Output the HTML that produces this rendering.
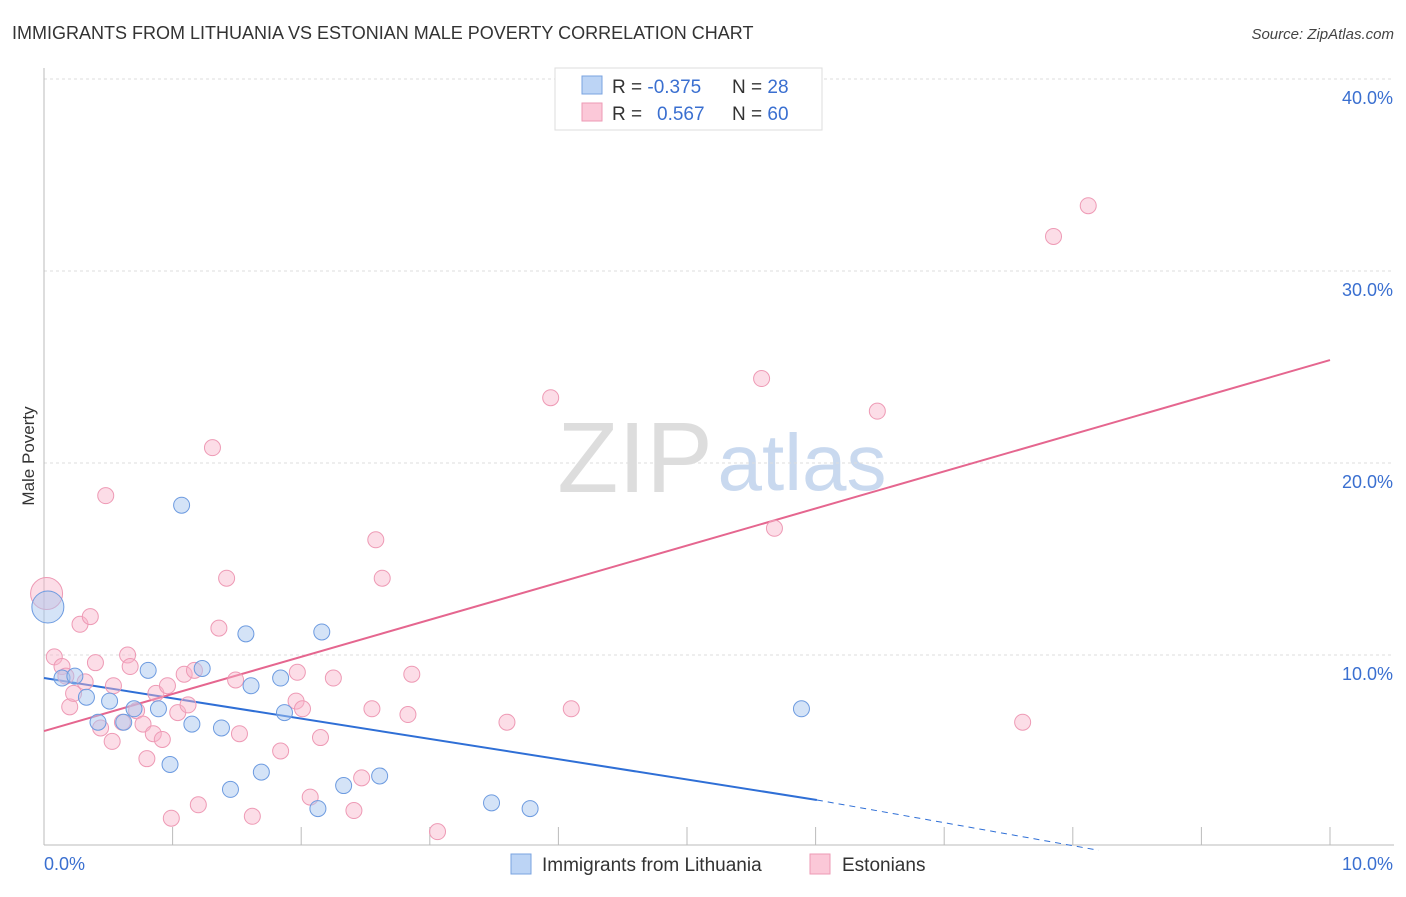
<!DOCTYPE html>
<html><head><meta charset="utf-8"><style>
body{margin:0;background:#fff;font-family:"Liberation Sans",sans-serif;}
svg text{font-family:"Liberation Sans",sans-serif;}
</style></head><body>
<svg width="1406" height="892" viewBox="0 0 1406 892">
<text x="12" y="39" font-size="18" fill="#333">IMMIGRANTS FROM LITHUANIA VS ESTONIAN MALE POVERTY CORRELATION CHART</text>
<text x="1394" y="39" font-size="15" fill="#444" font-style="italic" text-anchor="end">Source: ZipAtlas.com</text>
<text x="34" y="456" font-size="17" fill="#333" text-anchor="middle" transform="rotate(-90 34 456)">Male Poverty</text>
<g>
<text x="635" y="492" font-size="100" fill="#ddd" font-family="Liberation Serif" text-anchor="middle">ZIP</text>
<text x="802" y="490" font-size="80" fill="#c9d9ef" text-anchor="middle">atlas</text>
</g>
<g id="grid"></g>
<g id="axes"></g>
<g id="lines"></g>
<g id="pts"></g>
<g>
<rect x="555" y="68" width="267" height="62" fill="#fff" stroke="#ddd"/>
<rect x="582" y="76" width="20" height="18" fill="#bcd4f5" stroke="#7aa3e0"/>
<rect x="582" y="103" width="20" height="18" fill="#fbc8d8" stroke="#ee9ab5"/>
<text x="612" y="93" font-size="19" fill="#333">R = <tspan fill="#3a6fd0">-0.375</tspan><tspan x="732">N = </tspan><tspan fill="#3a6fd0">28</tspan></text>
<text x="612" y="120" font-size="19" fill="#333">R = <tspan fill="#3a6fd0" x="657">0.567</tspan><tspan x="732">N = </tspan><tspan fill="#3a6fd0">60</tspan></text>
</g>
<g>
<rect x="511" y="854" width="20" height="20" fill="#bcd4f5" stroke="#7aa3e0"/>
<text x="542" y="871" font-size="19" fill="#333">Immigrants from Lithuania</text>
<rect x="810" y="854" width="20" height="20" fill="#fbc8d8" stroke="#ee9ab5"/>
<text x="842" y="871" font-size="19" fill="#333">Estonians</text>
</g>
</svg>
<script>
const yTicks=[10,20,30,40];
const yTickLabels=["10.0%","20.0%","30.0%","40.0%"];
const xTickLabels=["0.0%","10.0%"];
const blueX=[0.03,0.14,0.24,0.33,0.42,0.51,0.62,0.7,0.81,0.89,0.98,1.07,1.15,1.23,1.38,1.45,1.57,1.61,1.69,1.84,1.87,2.13,2.16,2.33,2.61,3.48,3.78,5.89];
const blueY=[12.5,8.8,8.9,7.8,6.5,7.6,6.5,7.2,9.2,7.2,4.3,17.8,6.4,9.3,6.2,3.0,11.1,8.4,3.9,8.8,7.0,2.0,11.2,3.2,3.7,2.3,2.0,7.2];
const pinkX=[0.02,0.08,0.14,0.17,0.2,0.23,0.28,0.32,0.36,0.4,0.44,0.48,0.53,0.54,0.61,0.65,0.67,0.72,0.77,0.8,0.85,0.87,0.92,0.96,0.99,1.04,1.09,1.12,1.17,1.2,1.31,1.36,1.42,1.49,1.52,1.62,1.84,1.97,1.96,2.01,2.07,2.15,2.25,2.41,2.47,2.55,2.58,2.63,2.83,2.86,3.06,3.6,3.94,4.1,5.58,5.68,6.48,7.61,7.85,8.12];
const pinkY=[13.2,9.9,9.4,8.9,7.3,8.0,11.6,8.6,12.0,9.6,6.2,18.3,5.5,8.4,6.5,10.0,9.4,7.1,6.4,4.6,5.9,8.0,5.6,8.4,1.5,7.0,9.0,7.4,9.2,2.2,20.8,11.4,14.0,8.7,5.9,1.6,5.0,9.1,7.6,7.2,2.6,5.7,8.8,1.9,3.6,7.2,16.0,14.0,6.9,9.0,0.8,6.5,23.4,7.2,24.4,16.6,22.7,6.5,31.8,33.4];
const blueLine=[8.8,2.45,-0.17];
const pinkLine=[6.04,25.36];
const X=v=>44+v/10*1286, Y=v=>847-v*19.2;
const NS="http://www.w3.org/2000/svg";
function mk(t,a,p){const e=document.createElementNS(NS,t);for(const k in a)e.setAttribute(k,a[k]);p.appendChild(e);return e;}
const grid=document.getElementById('grid'),axes=document.getElementById('axes'),lines=document.getElementById('lines'),pts=document.getElementById('pts');
yTicks.forEach((v,i)=>{
 const l=mk('line',{x1:44,x2:1394,y1:Y(v),y2:Y(v),stroke:'#ddd','stroke-dasharray':'3,3'},grid);
 
 
 const t=mk('text',{x:1393,y:Y(v)+25,'font-size':18,fill:'#3a6fd0','text-anchor':'end'},grid);t.textContent=yTickLabels[i];
 
 
});
mk('line',{x1:44,x2:44,y1:68,y2:845,stroke:'#bbb'},axes);
mk('line',{x1:44,x2:1394,y1:845,y2:845,stroke:'#bbb'},axes);
for(let i=0;i<=10;i++){mk('line',{x1:X(i),x2:X(i),y1:827,y2:845,stroke:'#bbb'},axes);}
[0,10].forEach((v,i)=>{const t=mk('text',{x:i?1393:44,y:870,'font-size':18,fill:'#3a6fd0','text-anchor':i?'end':'start'},axes);t.textContent=xTickLabels[i];
 
 });
const bl=mk('line',{x1:X(0),y1:Y(blueLine[0]),x2:X(6.01),y2:Y(blueLine[1]),stroke:'#2f6fd6','stroke-width':2},lines);


const bd=mk('line',{x1:X(6.01),y1:Y(blueLine[1]),x2:X(8.2),y2:Y(blueLine[2]),stroke:'#2f6fd6','stroke-width':1,'stroke-dasharray':'6,5'},lines);


const pl=mk('line',{x1:X(0),y1:Y(pinkLine[0]),x2:X(10),y2:Y(pinkLine[1]),stroke:'#e5668f','stroke-width':2},lines);


pinkX.forEach((x,i)=>{const c=mk('circle',{cx:X(x),cy:Y(pinkY[i]),r:i==0?16:8,fill:'rgba(248,180,202,0.45)',stroke:'#ee9ab5','stroke-width':1},pts);
 
 });
blueX.forEach((x,i)=>{const c=mk('circle',{cx:X(x),cy:Y(blueY[i]),r:i==0?16:8,fill:'rgba(170,200,240,0.5)',stroke:'#6d9be0','stroke-width':1},pts);
 
 });
</script>
</body></html>
